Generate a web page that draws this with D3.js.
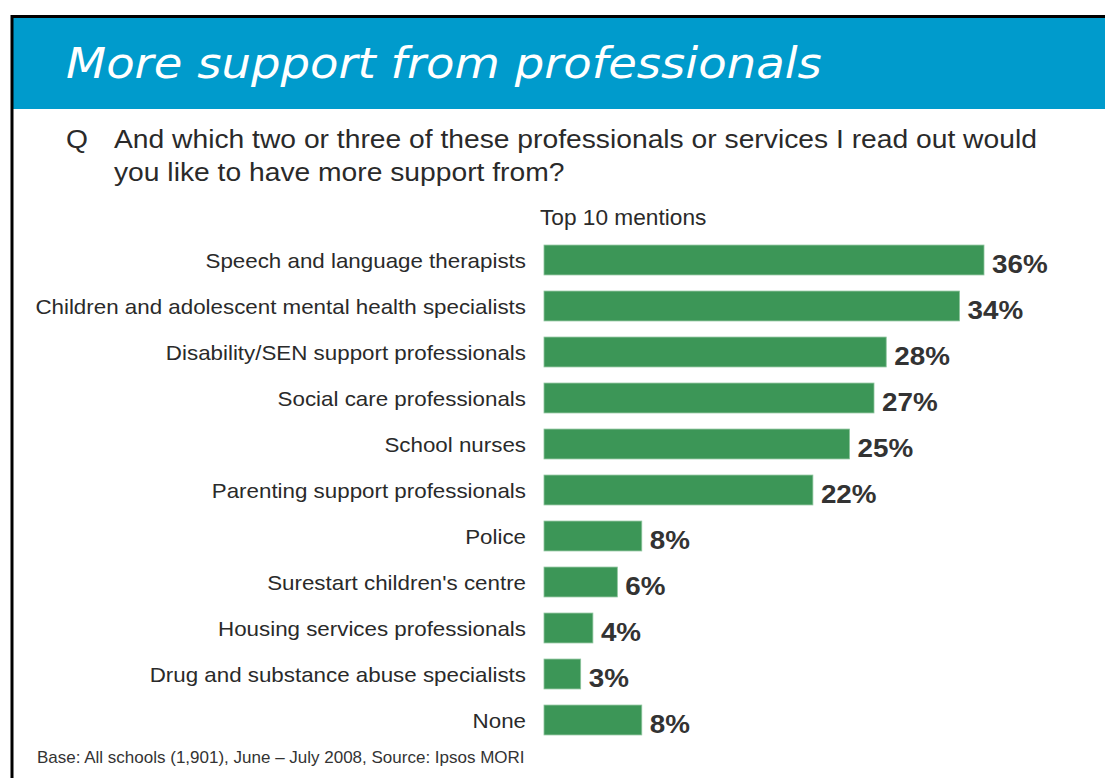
<!DOCTYPE html>
<html><head><meta charset="utf-8">
<script src="https://cdnjs.cloudflare.com/ajax/libs/d3/7.8.5/d3.min.js"></script>
<style>html,body{margin:0;padding:0;background:#fff;}svg{display:block;}</style>
</head><body>
<script>
const categories = [
  "Speech and language therapists",
  "Children and adolescent mental health specialists",
  "Disability/SEN support professionals",
  "Social care professionals",
  "School nurses",
  "Parenting support professionals",
  "Police",
  "Surestart children's centre",
  "Housing services professionals",
  "Drug and substance abuse specialists",
  "None"
];
const values = [36, 34, 28, 27, 25, 22, 8, 6, 4, 3, 8];
const valueLabels = ["36%","34%","28%","27%","25%","22%","8%","6%","4%","3%","8%"];

const W = 1105, H = 778;
const SX = 1.07; // horizontal stretch of the original slide
const svg = d3.select("body").append("svg").attr("width", W).attr("height", H);

function txt(parent, x, y, s, size, opts = {}) {
  const t = parent.append("text")
    .attr("transform", `translate(${x},${y}) scale(${SX},1)`)
    .attr("font-family", opts.family || "Liberation Sans, Arial, sans-serif")
    .attr("font-size", size)
    .attr("fill", opts.fill || "#2a2a2a")
    .text(s);
  if (opts.italic) t.attr("font-style", "italic");
  if (opts.bold) t.attr("font-weight", "bold");
  if (opts.anchor) t.attr("text-anchor", opts.anchor);
  return t;
}

// frame
svg.append("rect").attr("x", 13).attr("y", 17).attr("width", W - 13).attr("height", 92).attr("fill", "#009bcc");
svg.append("line").attr("x1", 11).attr("x2", W).attr("y1", 16.5).attr("y2", 16.5).attr("stroke", "#000").attr("stroke-width", 3);
svg.append("line").attr("x1", 12).attr("x2", 12).attr("y1", 15).attr("y2", H).attr("stroke", "#000").attr("stroke-width", 3);

txt(svg, 66, 78, "More support from professionals", 43.5, {family: "DejaVu Sans, Verdana, sans-serif", italic: true, fill: "#fff"});

txt(svg, 66, 148, "Q", 26.4);
txt(svg, 114, 148, "And which two or three of these professionals or services I read out would", 26.4);
txt(svg, 114, 181, "you like to have more support from?", 26.4);
txt(svg, 540, 225, "Top 10 mentions", 21.2);

const x = d3.scaleLinear().domain([0, 36]).range([544, 984]);
const y = d3.scaleBand().domain(categories).range([237, 743]).paddingInner(0.35).paddingOuter(0.175);

const g = svg.append("g");
g.selectAll("rect.bar").data(values).join("rect").attr("class", "bar")
  .attr("x", x(0)).attr("y", (d, i) => y(categories[i]))
  .attr("width", d => x(d) - x(0)).attr("height", y.bandwidth())
  .attr("fill", "#3c9657").attr("stroke", "#8cc49c").attr("stroke-width", 0.8);

categories.forEach(c => {
  txt(g, 526, y(c) + y.bandwidth() / 2 + 7.5, c, 20.9, {anchor: "end"});
});

values.forEach((v, i) => {
  txt(g, x(v) + 8, y(categories[i]) + y.bandwidth() / 2 + 13, valueLabels[i], 26, {bold: true, fill: "#333"});
});

txt(svg, 37, 763, "Base: All schools (1,901), June \u2013 July 2008, Source: Ipsos MORI", 15.9, {fill: "#333"});
</script>
</body></html>
